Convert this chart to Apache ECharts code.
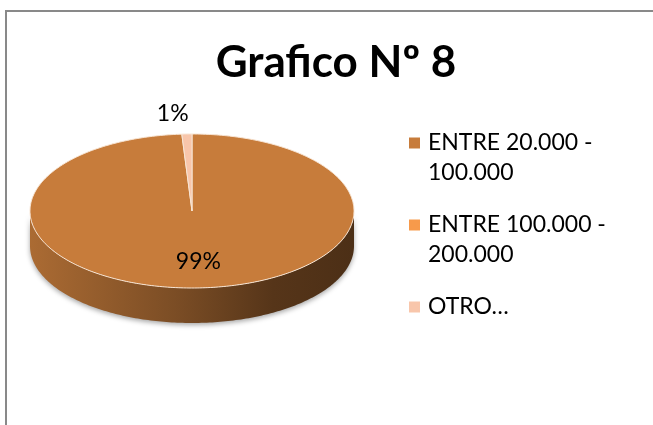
<!DOCTYPE html>
<html>
<head>
<meta charset="utf-8">
<script src="https://cdn.jsdelivr.net/npm/echarts@6/dist/echarts.min.js"></script>
<style>
  html, body { margin: 0; padding: 0; background: #fff; }
  #chart { width: 653px; height: 425px; }
</style>
</head>
<body>
<div id="chart"></div>
<script>
// datos del grafico
var categories = ['ENTRE 20.000 - 100.000', 'ENTRE 100.000 - 200.000', 'OTRO...'];
var legendLabels = ['ENTRE 20.000 -\n100.000', 'ENTRE 100.000 -\n200.000', 'OTRO…'];
var values = [99, 0, 1];
var colors = ['#C77C3B', '#F79A4B', '#F8C6AB'];

var FONT = 'Lato, "Noto Sans", sans-serif';
// geometria del pastel 3D
var CX = 192, CY = 211, RX = 162, RY = 77, DEPTH = 35;

function shade(hex, k) {
  var r = parseInt(hex.substr(1, 2), 16), g = parseInt(hex.substr(3, 2), 16), b = parseInt(hex.substr(5, 2), 16);
  return 'rgb(' + Math.round(r * k) + ',' + Math.round(g * k) + ',' + Math.round(b * k) + ')';
}

function pt(theta, f, dy) {
  return [CX + RX * f * Math.sin(theta), CY - RY * f * Math.cos(theta) + (dy || 0)];
}

function renderSlice(params, api) {
  var i = params.dataIndex;
  var total = 0, before = 0;
  for (var j = 0; j < values.length; j++) {
    total += values[j];
    if (j < i) before += values[j];
  }
  if (values[i] <= 0) return { type: 'group', children: [] };
  var a0 = before / total * Math.PI * 2;
  var a1 = (before + values[i]) / total * Math.PI * 2;
  var children = [];
  var steps, k, a;

  // lado frontal
  var s0 = Math.max(a0, Math.PI / 2), s1 = Math.min(a1, Math.PI * 3 / 2);
  if (s1 > s0) {
    var side = [];
    steps = Math.max(2, Math.ceil((s1 - s0) * 60));
    for (k = 0; k <= steps; k++) {
      a = s0 + (s1 - s0) * k / steps;
      side.push(pt(a, 1, 0));
    }
    for (k = steps; k >= 0; k--) {
      a = s0 + (s1 - s0) * k / steps;
      side.push(pt(a, 1, DEPTH));
    }
    children.push({
      type: 'polygon',
      z2: 1,
      shape: { points: side },
      style: {
        fill: new echarts.graphic.LinearGradient(0, 0, 1, 0, [
          { offset: 0, color: shade(colors[i], 0.86) },
          { offset: 0.45, color: shade(colors[i], 0.62) },
          { offset: 0.75, color: shade(colors[i], 0.43) },
          { offset: 1, color: shade(colors[i], 0.38) }
        ]),
        shadowBlur: 5,
        shadowColor: 'rgba(0,0,0,0.35)',
        shadowOffsetY: 2
      }
    });
  }

  // cara superior
  var top = [[CX, CY]];
  steps = Math.max(2, Math.ceil((a1 - a0) * 60));
  for (k = 0; k <= steps; k++) {
    a = a0 + (a1 - a0) * k / steps;
    top.push(pt(a, 1, 0));
  }
  children.push({
    type: 'polygon',
    z2: 10,
    shape: { points: top },
    style: { fill: colors[i], stroke: '#F7E4D3', lineWidth: 1 }
  });

  // etiqueta
  var share = values[i] / total;
  var mid = (a0 + a1) / 2;
  var pos, align;
  if (share >= 0.1) {
    pos = pt(mid, 0.66, 0);
    align = 'center';
  } else {
    pos = pt(mid, 1.26, 0);
    align = Math.sin(mid) < 0 ? 'right' : 'left';
    pos[0] += Math.sin(mid) < 0 ? 3 : -3;
  }
  children.push({
    type: 'text',
    z2: 20,
    style: {
      text: Math.round(share * 100) + '%',
      x: pos[0] + (align === 'center' ? 3 : 0),
      y: pos[1],
      align: align,
      verticalAlign: 'middle',
      fontSize: 23,
      fontFamily: FONT,
      fill: '#000'
    }
  });

  return { type: 'group', children: children };
}

var chart = echarts.init(document.getElementById('chart'));

var legendTops = [98, 180, 292];

var option = {
  animation: false,
  title: {
    text: 'Grafico Nº 8',
    left: 331,
    top: 36,
    textAlign: 'center',
    textStyle: { fontFamily: FONT, fontWeight: 'bold', fontSize: 44, color: '#000' }
  },
  legend: categories.map(function (c, i) {
    return {
      orient: 'vertical',
      left: 409,
      top: legendTops[i],
      padding: 0,
      itemWidth: 11,
      itemHeight: 11,
      icon: 'rect',
      selectedMode: false,
      // linea vacia arriba para que el icono quede junto a la primera linea
      formatter: function (name) {
        var t = legendLabels[categories.indexOf(name)];
        return t.indexOf('\n') >= 0 ? '\n' + t : t;
      },
      textStyle: { fontFamily: FONT, fontSize: 23, lineHeight: 30, color: '#000', padding: [0, 0, 0, 3] },
      data: [c]
    };
  }),
  graphic: [{
    type: 'rect',
    silent: true,
    shape: { x: 6, y: 11, width: 700, height: 500 },
    style: { fill: 'none', stroke: '#898989', lineWidth: 2 }
  }],
  series: [
    {
      type: 'custom',
      name: 'Grafico',
      coordinateSystem: 'none',
      renderItem: renderSlice,
      silent: true,
      data: values.map(function (v, i) { return { name: categories[i], value: v }; })
    },
    {
      // solo para la leyenda
      type: 'pie',
      name: 'leyenda',
      radius: [0, 0],
      center: [CX, CY],
      silent: true,
      label: { show: false },
      labelLine: { show: false },
      itemStyle: { borderWidth: 0 },
      data: categories.map(function (c, i) {
        return { name: c, value: values[i], itemStyle: { color: colors[i] } };
      })
    }
  ]
};

if (option && typeof option === 'object') {
  chart.setOption(option);
}
</script>
</body>
</html>
